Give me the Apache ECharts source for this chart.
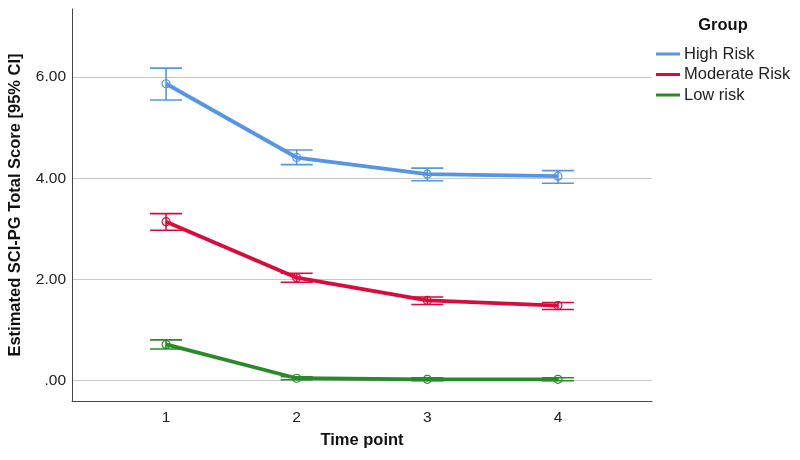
<!DOCTYPE html>
<html><head><meta charset="utf-8">
<script src="https://cdn.jsdelivr.net/npm/echarts@6/dist/echarts.min.js"></script>
<style>html,body{margin:0;padding:0;background:#fff}#c{width:800px;height:460px}</style>
</head><body><div id="c"></div>
<script>
const timePoints = [1, 2, 3, 4];
const yTicks = [0, 2, 4, 6];
const groupNames = ['High Risk', 'Moderate Risk', 'Low risk'];
const highMean = [5.87, 4.41, 4.08, 4.04];
const highLow  = [5.55, 4.27, 3.95, 3.90];
const highHigh = [6.18, 4.56, 4.20, 4.15];
const modMean = [3.14, 2.03, 1.58, 1.48];
const modLow  = [2.97, 1.94, 1.50, 1.40];
const modHigh = [3.30, 2.12, 1.65, 1.54];
const lowMean = [0.71, 0.04, 0.02, 0.02];
const lowLow  = [0.62, 0.01, -0.01, -0.01];
const lowHigh = [0.80, 0.07, 0.05, 0.05];
const colors = ['#5595E6', '#DA0B3A', '#2A8A2A'];

const groups = [
  {mean: highMean, lo: highLow, hi: highHigh},
  {mean: modMean, lo: modLow, hi: modHigh},
  {mean: lowMean, lo: lowLow, hi: lowHigh}
];
const font = 'Arial, "Liberation Sans", sans-serif';
const series = [];
groups.forEach((g, i) => {
  series.push({
    type: 'custom',
    name: groupNames[i] + ' CI',
    data: timePoints.map((t, k) => [t, g.lo[k], g.hi[k]]),
    z: 4,
    silent: true,
    renderItem: function (params, api) {
      const x = api.value(0);
      const p1 = api.coord([x, api.value(1)]);
      const p2 = api.coord([x, api.value(2)]);
      const hw = 16;
      const st = {stroke: colors[i], lineWidth: 1.6, fill: null};
      return {type: 'group', children: [
        {type: 'line', shape: {x1: p1[0], y1: p1[1], x2: p2[0], y2: p2[1]}, style: st},
        {type: 'line', shape: {x1: p1[0]-hw, y1: p1[1], x2: p1[0]+hw, y2: p1[1]}, style: st},
        {type: 'line', shape: {x1: p2[0]-hw, y1: p2[1], x2: p2[0]+hw, y2: p2[1]}, style: st}
      ]};
    }
  });
  series.push({
    type: 'line',
    name: groupNames[i],
    data: timePoints.map((t, k) => [t, g.mean[k]]),
    symbol: 'circle',
    symbolSize: 8,
    z: 3,
    lineStyle: {width: 3.8, color: colors[i]},
    itemStyle: {color: 'rgba(255,255,255,0)', borderColor: colors[i], borderWidth: 1.2},
    animation: false
  });
});

const chart = echarts.init(document.getElementById('c'));
chart.setOption({
  animation: false,
  color: colors,
  title: {text: 'Group', left: 723, top: 17, textAlign: 'center', padding: 0,
    textStyle: {fontFamily: font, fontSize: 16.5, fontWeight: 'bold', color: '#111'}},
  legend: {
    data: groupNames.map((n, i) => ({name: n, itemStyle: {color: colors[i], borderWidth: 0}})),
    orient: 'vertical', left: 656, top: 45.5, itemGap: 3.5, padding: 0,
    icon: 'rect', itemWidth: 24, itemHeight: 3,
    itemStyle: {borderWidth: 0},
    textStyle: {fontFamily: font, fontSize: 16.5, color: '#222', lineHeight: 17, padding: [0, 0, 0, -1]}
  },
  grid: {left: 72, right: 148, top: 9, bottom: 59, outerBoundsMode: 'none', containLabel: false},
  xAxis: {
    type: 'value', min: 0.28, max: 4.72,
    name: 'Time point', nameLocation: 'middle', nameGap: 31,
    nameTextStyle: {fontFamily: font, fontSize: 16.5, fontWeight: 'bold', color: '#111'},
    axisLine: {show: true, onZero: false, lineStyle: {color: '#444', width: 1}},
    axisTick: {show: false, customValues: timePoints},
    axisLabel: {customValues: timePoints, fontFamily: font, fontSize: 15.5, color: '#222', margin: 9},
    splitLine: {show: false}
  },
  yAxis: {
    type: 'value', min: -0.41, max: 7.35,
    name: 'Estimated SCI-PG Total Score [95% CI]', nameLocation: 'middle', nameGap: 48,
    nameTextStyle: {fontFamily: font, fontSize: 16.5, fontWeight: 'bold', color: '#111'},
    axisLine: {show: true, lineStyle: {color: '#444', width: 1}},
    axisTick: {show: false, customValues: yTicks},
    axisLabel: {customValues: yTicks, fontFamily: font, fontSize: 15.5, color: '#222', margin: 6,
      formatter: v => v === 0 ? '.00' : v.toFixed(2)},
    splitLine: {show: true, lineStyle: {color: '#c8c8c8', width: 1}}
  },
  series: series
});
</script></body></html>
